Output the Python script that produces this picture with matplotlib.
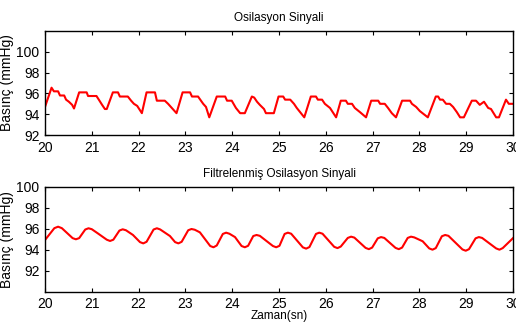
import matplotlib
matplotlib.use('Agg')
import matplotlib.pyplot as plt

plt.rcParams['font.family'] = ['Liberation Sans', 'DejaVu Sans']

# raw oscillation signal
raw_t = [20.00, 20.14, 20.19, 20.28, 20.32, 20.41, 20.45, 20.51, 20.58, 20.62,
         20.73, 20.89, 20.92, 21.10, 21.15, 21.22, 21.28, 21.32, 21.45, 21.56,
         21.60, 21.77, 21.84, 21.90, 21.97, 22.07, 22.17, 22.35, 22.39, 22.56,
         22.63, 22.71, 22.81, 22.94, 23.10, 23.14, 23.27, 23.38, 23.44, 23.51,
         23.67, 23.85, 23.89, 23.99, 24.08, 24.17, 24.27, 24.42, 24.47, 24.53,
         24.59, 24.68, 24.72, 24.89, 24.99, 25.09, 25.13, 25.24, 25.32, 25.38,
         25.54, 25.68, 25.79, 25.83, 25.92, 25.98, 26.09, 26.22, 26.32, 26.43,
         26.47, 26.56, 26.62, 26.73, 26.86, 26.97, 27.12, 27.16, 27.26, 27.33,
         27.41, 27.50, 27.63, 27.80, 27.84, 27.93, 28.01, 28.18, 28.35, 28.40,
         28.44, 28.50, 28.57, 28.65, 28.72, 28.80, 28.87, 28.95, 29.12, 29.21,
         29.29, 29.38, 29.47, 29.53, 29.64, 29.70, 29.85, 29.91, 30.00]
raw_p = [94.7, 96.55, 96.2, 96.2, 95.8, 95.8, 95.4, 95.2, 94.9, 94.55,
         96.1, 96.1, 95.75, 95.75, 95.4, 94.9, 94.5, 94.5, 96.1, 96.1,
         95.7, 95.7, 95.3, 95.0, 94.8, 94.1, 96.1, 96.1, 95.3, 95.3,
         95.0, 94.6, 94.1, 96.1, 96.1, 95.7, 95.7, 95.0, 94.7, 93.7,
         95.7, 95.7, 95.3, 95.3, 94.6, 94.1, 94.1, 95.7, 95.6, 95.2,
         94.9, 94.5, 94.1, 94.1, 95.7, 95.7, 95.4, 95.4, 95.0, 94.6,
         93.7, 95.7, 95.7, 95.4, 95.4, 95.0, 94.6, 93.7, 95.3, 95.3,
         95.0, 95.0, 94.6, 94.2, 93.7, 95.3, 95.3, 95.0, 95.0, 94.6,
         94.1, 93.7, 95.3, 95.3, 95.0, 94.7, 94.3, 93.7, 95.7, 95.7,
         95.4, 95.4, 95.0, 95.0, 94.7, 94.2, 93.7, 93.7, 95.3, 95.3,
         94.9, 95.2, 94.6, 94.5, 93.7, 93.7, 95.4, 95.0, 95.0]

# filtered signal
filt_t = [20.00, 20.20, 20.28, 20.36, 20.59, 20.66, 20.73, 20.86, 20.93, 21.00,
          21.13, 21.32, 21.39, 21.46, 21.59, 21.66, 21.73, 21.88, 22.03, 22.10,
          22.17, 22.32, 22.39, 22.46, 22.67, 22.78, 22.85, 22.92, 23.06, 23.13,
          23.20, 23.31, 23.53, 23.60, 23.67, 23.80, 23.87, 23.94, 24.06, 24.20,
          24.27, 24.34, 24.45, 24.52, 24.59, 24.87, 24.94, 25.01, 25.12, 25.19,
          25.26, 25.51, 25.58, 25.65, 25.79, 25.86, 25.93, 26.18, 26.25, 26.32,
          26.47, 26.54, 26.61, 26.85, 26.92, 26.99, 27.11, 27.18, 27.25, 27.49,
          27.56, 27.63, 27.75, 27.82, 27.89, 28.07, 28.21, 28.28, 28.35, 28.48,
          28.55, 28.62, 28.92, 28.99, 29.06, 29.20, 29.27, 29.34, 29.64, 29.71,
          29.78, 30.00]
filt_p = [94.92, 96.05, 96.19, 96.05, 95.10, 94.99, 95.10, 95.92, 96.04, 95.95,
          95.55, 94.95, 94.83, 94.95, 95.82, 95.94, 95.85, 95.40, 94.72, 94.60,
          94.75, 95.92, 96.04, 95.93, 95.30, 94.72, 94.60, 94.75, 95.85, 95.97,
          95.90, 95.65, 94.35, 94.23, 94.40, 95.50, 95.62, 95.52, 95.20, 94.35,
          94.23, 94.37, 95.30, 95.40, 95.32, 94.35, 94.23, 94.37, 95.50, 95.62,
          95.52, 94.22, 94.10, 94.25, 95.50, 95.62, 95.52, 94.27, 94.15, 94.30,
          95.12, 95.24, 95.15, 94.17, 94.05, 94.20, 95.08, 95.20, 95.12, 94.17,
          94.05, 94.20, 95.12, 95.24, 95.17, 94.80, 94.12, 94.00, 94.15, 95.28,
          95.40, 95.32, 94.02, 93.90, 94.05, 95.08, 95.20, 95.12, 94.12, 94.00,
          94.15, 95.10]

x_ticks = list(range(20, 31))
y_ticks = [92, 94, 96, 98, 100]


def style_axes(ax, ylim):
    ax.set_xlim(20, 30)
    ax.set_ylim(*ylim)
    ax.set_xticks(x_ticks)
    ax.set_yticks(y_ticks)
    ax.tick_params(direction='in', length=3, width=0.8, top=True, right=True,
                   labelsize=10, pad=4)
    for s in ax.spines.values():
        s.set_linewidth(1.0)
    ax.set_ylabel('Basınç (mmHg)', fontsize=10, labelpad=2)


fig = plt.figure(figsize=(5.16, 3.23), dpi=100)

ax1 = fig.add_axes([0.0872, 0.582, 0.907, 0.322])
ax1.plot(raw_t, raw_p, color='red', linewidth=1.5)
style_axes(ax1, (92, 102))
ax1.set_title('Osilasyon Sinyali', fontsize=8.5, pad=7)

ax2 = fig.add_axes([0.0872, 0.097, 0.907, 0.325])
ax2.plot(filt_t, filt_p, color='red', linewidth=1.5)
style_axes(ax2, (90, 100))
ax2.set_title('Filtrelenmiş Osilasyon Sinyali', fontsize=8.5, pad=7)
ax2.set_xlabel('Zaman(sn)', fontsize=8.5, labelpad=-1)

fig.savefig('out.png', dpi=100)
